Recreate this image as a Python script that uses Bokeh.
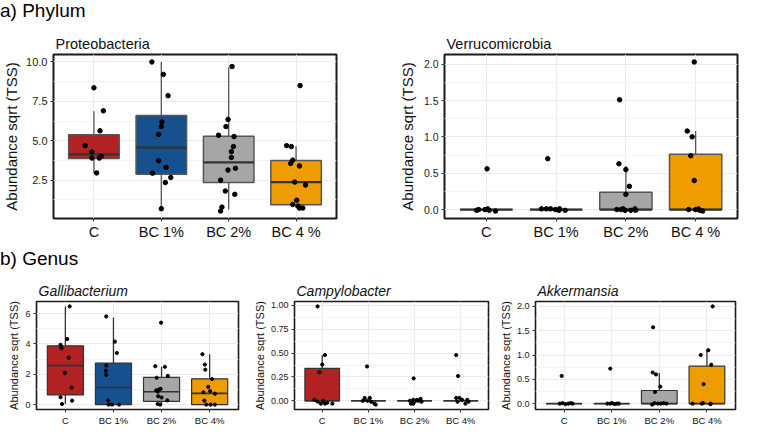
from bokeh.plotting import figure
from bokeh.models import Range1d, FixedTicker, Div
from bokeh.layouts import column, row
from bokeh.embed import file_html
from bokeh.resources import INLINE

FONT = "Liberation Sans"

groups_top = ["C", "BC 1%", "BC 2%", "BC 4 %"]
groups_bot = ["C", "BC 1%", "BC 2%", "BC 4%"]
box_colors = ["#B22222", "#17508F", "#A6A6A6", "#EF9C00"]

# ---------------- Proteobacteria ----------------
prot_vals = [
    [8.36, 6.90, 5.63, 4.69, 4.29, 3.90, 3.90, 4.02, 2.96],
    [10.0, 9.21, 7.86, 6.19, 5.90, 5.40, 3.73, 3.31, 2.94, 2.67, 2.35, 0.69],
    [9.71, 6.35, 5.90, 5.35, 5.27, 4.63, 4.31, 3.94, 3.25, 3.14, 2.50, 1.81, 1.60, 0.79, 0.54],
    [8.50, 4.69, 4.63, 3.77, 3.56, 3.40, 2.38, 2.19, 1.23, 0.96, 0.86, 0.73, 0.73],
]
prot_jit = [
    [0.0, 0.14, 0.09, -0.13, -0.03, -0.03, 0.08, 0.11, 0.04],
    [-0.14, 0.03, 0.10, 0.01, 0.0, -0.04, -0.04, 0.07, -0.13, 0.14, 0.06, 0.0],
    [0.05, -0.01, -0.04, -0.15, 0.08, 0.07, 0.04, 0.04, 0.10, -0.01, -0.12, -0.05, 0.09, -0.10, -0.12],
    [0.06, -0.14, -0.07, -0.05, -0.08, 0.05, -0.02, 0.14, 0.01, -0.05, 0.03, 0.05, 0.10],
]
prot_q1 = [3.88, 2.88, 2.35, 0.94]
prot_med = [4.13, 4.56, 3.63, 2.38]
prot_q3 = [5.38, 6.60, 5.29, 3.75]
prot_lo = [2.96, 0.69, 0.64, 0.73]
prot_hi = [6.88, 10.0, 9.67, 4.65]
prot_yticks = [2.5, 5.0, 7.5, 10.0]
prot_ylabels = ["2.5", "5.0", "7.5", "10.0"]

# ---------------- Verrucomicrobia ----------------
verr_vals = [
    [0.56, -0.01, 0.0, 0.0, 0.01, -0.01, -0.02],
    [0.70, 0.01, 0.01, 0.01, 0.0, -0.01, -0.01, 0.01],
    [1.51, 0.63, 0.55, 0.32, 0.21, 0.0, 0.0, 0.01, -0.01, -0.01, 0.01, -0.01],
    [2.03, 1.08, 1.00, 0.74, 0.40, 0.0, 0.0, 0.01, -0.02, -0.01],
]
verr_jit = [
    [0.01, -0.14, -0.11, -0.02, 0.02, 0.04, 0.13],
    [-0.12, -0.21, -0.14, -0.08, -0.01, 0.04, 0.13, 0.05],
    [-0.09, -0.10, 0.0, 0.05, 0.0, -0.13, -0.07, -0.04, -0.01, 0.07, 0.13, 0.14],
    [-0.02, -0.12, -0.05, -0.07, -0.02, -0.10, 0.0, 0.04, 0.10, 0.06],
]
verr_q1 = [0.0, 0.0, 0.0, 0.0]
verr_med = [0.0, 0.0, 0.0, 0.0]
verr_q3 = [0.0, 0.0, 0.24, 0.76]
verr_lo = [0.0, 0.0, 0.0, 0.0]
verr_hi = [0.0, 0.0, 0.60, 1.08]
verr_yticks = [0.0, 0.5, 1.0, 1.5, 2.0]
verr_ylabels = ["0.0", "0.5", "1.0", "1.5", "2.0"]

# ---------------- Gallibacterium ----------------
gall_vals = [
    [6.47, 4.32, 3.94, 3.72, 3.09, 2.09, 1.11, 0.49, 0.26, 0.04],
    [5.81, 4.15, 3.40, 2.57, 2.23, 1.96, 0.28, 0.0, 0.0, 0.0],
    [5.40, 2.53, 2.49, 1.89, 1.77, 1.04, 1.00, 0.94, 0.85, 0.55, 0.47, 0.28, 0.04, 0.0],
    [3.32, 2.64, 2.30, 1.68, 1.17, 0.89, 0.72, 0.81, 0.26, 0.0, 0.0, 0.0],
]
gall_jit = [
    [0.09, 0.04, -0.10, -0.08, 0.07, -0.01, 0.13, -0.10, 0.14, -0.07],
    [-0.15, 0.03, 0.07, -0.15, -0.16, -0.15, -0.11, -0.10, -0.03, 0.12],
    [-0.01, -0.13, 0.07, 0.13, -0.10, -0.02, -0.05, -0.11, -0.08, -0.07, 0.0, 0.12, -0.08, -0.03],
    [-0.15, -0.10, -0.09, 0.05, -0.03, 0.01, 0.11, -0.13, -0.11, -0.07, 0.02, 0.11],
]
gall_q1 = [0.64, 0.0, 0.21, 0.0]
gall_med = [2.57, 1.13, 0.85, 0.74]
gall_q3 = [3.87, 2.74, 1.79, 1.70]
gall_lo = [0.04, 0.0, 0.0, 0.0]
gall_hi = [6.47, 5.74, 2.49, 3.32]
gall_yticks = [0, 2, 4, 6]
gall_ylabels = ["0", "2", "4", "6"]

# ---------------- Campylobacter ----------------
camp_vals = [
    [0.99, 0.48, 0.38, 0.30, 0.01, -0.01, -0.03, 0.0, -0.03, -0.02, -0.03],
    [0.36, 0.03, 0.03, 0.0, 0.0, -0.01, -0.03, -0.04],
    [0.235, 0.0, -0.03, 0.01, -0.01, 0.01, 0.0, 0.02, -0.01, -0.03],
    [0.48, 0.26, 0.03, 0.03, 0.01, 0.01, -0.01, -0.03, -0.01],
]
camp_jit = [
    [-0.10, 0.06, 0.0, -0.06, -0.17, -0.10, -0.03, 0.02, 0.06, 0.11, 0.22],
    [-0.03, -0.08, 0.03, -0.12, -0.02, 0.06, 0.13, 0.16],
    [-0.02, -0.10, -0.08, -0.03, 0.0, 0.05, 0.08, 0.13, 0.15, -0.03],
    [-0.10, -0.06, -0.10, -0.03, 0.03, 0.14, -0.07, 0.10, 0.17],
]
camp_q1 = [0.0, 0.0, 0.0, 0.0]
camp_med = [0.0, 0.0, 0.0, 0.0]
camp_q3 = [0.34, 0.0, 0.0, 0.0]
camp_lo = [0.0, 0.0, 0.0, 0.0]
camp_hi = [0.48, 0.0, 0.0, 0.0]
camp_yticks = [0.0, 0.25, 0.5, 0.75, 1.0]
camp_ylabels = ["0.00", "0.25", "0.50", "0.75", "1.00"]

# ---------------- Akkermansia ----------------
akk_vals = [
    [0.57, 0.0, 0.01, -0.01, 0.0, 0.01, 0.0],
    [0.72, 0.0, 0.0, 0.01, -0.01, 0.0, 0.0],
    [1.57, 0.64, 0.60, 0.35, 0.24, -0.02, 0.01, 0.0, 0.0, 0.01, 0.0],
    [2.0, 1.10, 1.0, 0.80, 0.40, 0.0, 0.0, 0.01, -0.01, 0.0],
]
akk_jit = [
    [-0.05, -0.09, -0.03, 0.03, 0.09, 0.14, 0.18],
    [-0.03, -0.09, -0.03, 0.01, 0.06, 0.11, 0.15],
    [-0.13, -0.14, -0.07, 0.02, -0.09, -0.15, -0.10, -0.03, 0.03, 0.09, 0.15],
    [0.12, 0.03, -0.13, 0.09, -0.07, -0.30, -0.11, -0.08, 0.07, 0.08],
]
akk_q1 = [0.0, 0.0, 0.0, 0.0]
akk_med = [0.0, 0.0, 0.0, 0.0]
akk_q3 = [0.0, 0.0, 0.27, 0.77]
akk_lo = [0.0, 0.0, 0.0, 0.0]
akk_hi = [0.0, 0.0, 0.63, 1.10]
akk_yticks = [0.0, 0.5, 1.0, 1.5, 2.0]
akk_ylabels = ["0.0", "0.5", "1.0", "1.5", "2.0"]

Y_TITLE = "Abundance sqrt (TSS)"


def panel(title, vals, jit, q1, med, q3, lo, hi, yticks, ylabels, xlabels,
          w, h, bl, br, bt, bb, big, ytick_size, ytitle_gap):
    allv = [v for g in vals for v in g] + lo + hi
    vmin, vmax = min(allv), max(allv)
    pad = 0.05 * (vmax - vmin)
    p = figure(width=w, height=h, output_backend="svg", toolbar_location=None,
               x_range=Range1d(0.4, 4.6), y_range=Range1d(vmin - pad, vmax + pad),
               min_border_left=bl, min_border_right=br,
               min_border_top=bt, min_border_bottom=bb, title=title)
    p.background_fill_color = "white"
    p.border_fill_color = "white"
    p.outline_line_color = "#1a1a1a"
    p.outline_line_width = 2 if big else 1.6

    p.title.text_font = FONT
    p.title.text_font_size = "14.5px" if big else "14px"
    p.title.text_font_style = "normal" if big else "italic"
    p.title.text_color = "#111111"
    p.title.align = "left"
    p.title.offset = 2
    p.title.standoff = 5

    step = yticks[1] - yticks[0]
    minor = [t - step / 2 for t in yticks] + [yticks[-1] + step / 2]
    p.yaxis.ticker = FixedTicker(ticks=yticks, minor_ticks=minor)
    p.yaxis.major_label_overrides = {t: l for t, l in zip(yticks, ylabels)}
    xs = [i + 1 for i in range(len(xlabels))]
    p.xaxis.ticker = FixedTicker(ticks=xs)
    p.xaxis.major_label_overrides = {x: l for x, l in zip(xs, xlabels)}

    for ax in (p.xaxis[0], p.yaxis[0]):
        ax.axis_line_color = None
        ax.major_tick_line_color = "#333333"
        ax.major_tick_out = 3
        ax.major_tick_in = 0
        ax.minor_tick_line_color = None
        ax.major_label_text_font = FONT
        ax.major_label_text_color = "#222222"
        ax.major_label_standoff = 2
    p.xaxis.major_label_text_font_size = "14.5px" if big else "9.5px"
    p.yaxis.major_label_text_font_size = ytick_size
    p.xaxis.major_label_text_color = "#111111"
    p.yaxis.axis_label = Y_TITLE
    p.yaxis.axis_label_text_font = FONT
    p.yaxis.axis_label_text_font_style = "normal"
    p.yaxis.axis_label_text_font_size = "15px" if big else "11px"
    p.yaxis.axis_label_text_color = "#111111"
    p.yaxis.axis_label_standoff = ytitle_gap

    p.xgrid.grid_line_color = "#EBEBEB"
    p.ygrid.grid_line_color = "#EBEBEB"
    p.ygrid.minor_grid_line_color = "#F4F4F4"

    half = 0.375
    edge = "#555555" if big else "#333333"
    p.segment(x0=xs, y0=q3, x1=xs, y1=hi, line_color=edge, line_width=1.3)
    p.segment(x0=xs, y0=q1, x1=xs, y1=lo, line_color=edge, line_width=1.3)
    p.vbar(x=xs, bottom=q1, top=q3, width=2 * half, fill_color=box_colors,
           line_color=edge, line_width=1.5 if big else 1.2)
    p.segment(x0=[x - half for x in xs], y0=med, x1=[x + half for x in xs], y1=med,
              line_color="#333333", line_width=2.2 if big else 1.6)

    px, py = [], []
    for i, (g, j) in enumerate(zip(vals, jit)):
        for v, d in zip(g, j):
            px.append(xs[i] + d)
            py.append(v)
    p.scatter(px, py, size=4.5 if big else 3.2, color="black")
    return p


p1 = panel("Proteobacteria", prot_vals, prot_jit, prot_q1, prot_med, prot_q3, prot_lo,
           prot_hi, prot_yticks, prot_ylabels, groups_top, 370, 223, 46, 34, 32, 27,
           True, "11px", 3)
p2 = panel("Verrucomicrobia", verr_vals, verr_jit, verr_q1, verr_med, verr_q3, verr_lo,
           verr_hi, verr_yticks, verr_ylabels, groups_top, 371, 223, 74, 4, 32, 27,
           True, "10.5px", 5)
p3 = panel("Gallibacterium", gall_vals, gall_jit, gall_q1, gall_med, gall_q3, gall_lo,
           gall_hi, gall_yticks, gall_ylabels, groups_bot, 250, 159, 36, 12, 32, 18,
           False, "9px", 2)
p4 = panel("Campylobacter", camp_vals, camp_jit, camp_q1, camp_med, camp_q3, camp_lo,
           camp_hi, camp_yticks, camp_ylabels, groups_bot, 246, 159, 44, 8, 32, 18,
           False, "9px", 2)
p5 = panel("Akkermansia", akk_vals, akk_jit, akk_q1, akk_med, akk_q3, akk_lo,
           akk_hi, akk_yticks, akk_ylabels, groups_bot, 245, 159, 35, 6, 32, 18,
           False, "9px", 2)

head_style = {"font-size": "19px", "font-family": FONT, "color": "#000000",
              "line-height": "22px"}
div_a = Div(text="a) Phylum", width=741, height=22, styles=head_style, margin=(0, 0, 0, 0))
div_b = Div(text="b) Genus", width=741, height=24,
            styles=dict(head_style, **{"padding-top": "3px"}), margin=(0, 0, 0, 0))

layout = column(div_a, row(p1, p2), div_b, row(p3, p4, p5))
open("out.html", "w").write(file_html(layout, INLINE))
